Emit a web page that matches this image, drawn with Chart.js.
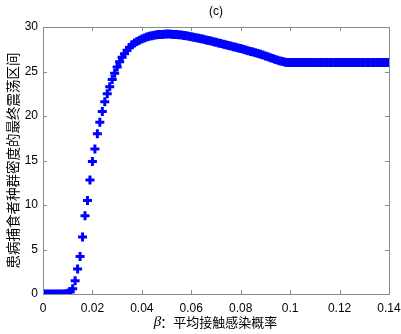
<!DOCTYPE html>
<html>
<head>
<meta charset="utf-8">
<script src="https://cdn.jsdelivr.net/npm/chart.js@4/dist/chart.umd.min.js"></script>
<style>
  body { margin: 0; background: #fff; }
  canvas { display: block; }
</style>
</head>
<body>
<canvas id="chart" width="401" height="334"></canvas>
<script>
// beta values, step 0.001 from 0 to 0.14
const betaValues = [
  0, 0.001, 0.002, 0.003, 0.004, 0.005, 0.006, 0.007, 0.008, 0.009,
  0.010, 0.011, 0.012, 0.013, 0.014, 0.015, 0.016, 0.017, 0.018, 0.019,
  0.020, 0.021, 0.022, 0.023, 0.024, 0.025, 0.026, 0.027, 0.028, 0.029,
  0.030, 0.031, 0.032, 0.033, 0.034, 0.035, 0.036, 0.037, 0.038, 0.039,
  0.040, 0.041, 0.042, 0.043, 0.044, 0.045, 0.046, 0.047, 0.048, 0.049,
  0.050, 0.051, 0.052, 0.053, 0.054, 0.055, 0.056, 0.057, 0.058, 0.059,
  0.060, 0.061, 0.062, 0.063, 0.064, 0.065, 0.066, 0.067, 0.068, 0.069,
  0.070, 0.071, 0.072, 0.073, 0.074, 0.075, 0.076, 0.077, 0.078, 0.079,
  0.080, 0.081, 0.082, 0.083, 0.084, 0.085, 0.086, 0.087, 0.088, 0.089,
  0.090, 0.091, 0.092, 0.093, 0.094, 0.095, 0.096, 0.097, 0.098, 0.099,
  0.100, 0.101, 0.102, 0.103, 0.104, 0.105, 0.106, 0.107, 0.108, 0.109,
  0.110, 0.111, 0.112, 0.113, 0.114, 0.115, 0.116, 0.117, 0.118, 0.119,
  0.120, 0.121, 0.122, 0.123, 0.124, 0.125, 0.126, 0.127, 0.128, 0.129,
  0.130, 0.131, 0.132, 0.133, 0.134, 0.135, 0.136, 0.137, 0.138, 0.139,
  0.140
];

// final oscillation interval of infected predator density
const intervalValues = [
  0, 0, 0, 0, 0, 0, 0, 0, 0, 0.02,
  0.08, 0.25, 0.6, 1.5, 2.8, 4.2, 6.4, 8.8, 10.5, 12.8,
  14.9, 16.3, 18.0, 19.3, 20.5, 21.6, 22.5, 23.3, 24.1, 24.8,
  25.5, 26.1, 26.6, 27.0, 27.4, 27.7, 28.0, 28.2, 28.38, 28.52,
  28.65, 28.77, 28.87, 28.95, 29.02, 29.08, 29.12, 29.15, 29.17, 29.19,
  29.2, 29.2, 29.19, 29.17, 29.15, 29.12, 29.09, 29.05, 29.01, 28.96,
  28.9, 28.85, 28.79, 28.73, 28.67, 28.61, 28.55, 28.48, 28.42, 28.35,
  28.28, 28.21, 28.14, 28.07, 28.0, 27.93, 27.86, 27.79, 27.72, 27.65,
  27.58, 27.5, 27.42, 27.34, 27.26, 27.18, 27.1, 27.02, 26.93, 26.84,
  26.75, 26.65, 26.55, 26.45, 26.35, 26.26, 26.18, 26.11, 26.05, 26.01,
  26.0, 26.0, 26.0, 26.0, 26.0, 26.0, 26.0, 26.0, 26.0, 26.0,
  26.0, 26.0, 26.0, 26.0, 26.0, 26.0, 26.0, 26.0, 26.0, 26.0,
  26.0, 26.0, 26.0, 26.0, 26.0, 26.0, 26.0, 26.0, 26.0, 26.0,
  26.0, 26.0, 26.0, 26.0, 26.0, 26.0, 26.0, 26.0, 26.0, 26.0,
  26.0
];

const xTicks = [0, 0.02, 0.04, 0.06, 0.08, 0.1, 0.12, 0.14];
const yTicks = [0, 5, 10, 15, 20, 25, 30];

const titleText = '(c)';
const xLabelSymbol = 'β';
const xLabelText = '：平均接触感染概率';
const yLabelText = '患病捕食者种群密度的最终震荡区间';

const points = betaValues.map((b, i) => ({ x: b, y: intervalValues[i] }));

// MATLAB-like frame with inward ticks on all four sides, plus texts
const matlabFrame = {
  id: 'matlabFrame',
  afterDraw: (chart) => {
    const ctx = chart.ctx;
    const area = chart.chartArea;
    const xs = chart.scales.x;
    const ys = chart.scales.y;
    ctx.save();
    ctx.strokeStyle = '#8a8a8a';
    ctx.lineWidth = 1;
    ctx.strokeRect(Math.round(area.left) + 0.5, Math.round(area.top) + 0.5,
      Math.round(area.right - area.left), Math.round(area.bottom - area.top));
    ctx.beginPath();
    xTicks.forEach((t) => {
      const px = Math.round(xs.getPixelForValue(t)) + 0.5;
      ctx.moveTo(px, area.bottom); ctx.lineTo(px, area.bottom - 4);
      ctx.moveTo(px, area.top); ctx.lineTo(px, area.top + 4);
    });
    yTicks.forEach((t) => {
      const py = Math.round(ys.getPixelForValue(t)) + 0.5;
      ctx.moveTo(area.left, py); ctx.lineTo(area.left + 4, py);
      ctx.moveTo(area.right, py); ctx.lineTo(area.right - 4, py);
    });
    ctx.stroke();

    ctx.fillStyle = '#000';
    const cx = (area.left + area.right) / 2;
    // title
    ctx.font = '12px "Liberation Sans", Arial, sans-serif';
    ctx.textAlign = 'center';
    ctx.textBaseline = 'middle';
    ctx.fillText(titleText, cx, 12);

    // x label: italic beta + chinese text
    ctx.font = 'italic 15px "Liberation Serif", serif';
    const wb = ctx.measureText(xLabelSymbol).width;
    ctx.font = '13px "Noto Sans CJK SC", sans-serif';
    const wt = ctx.measureText(xLabelText).width;
    let sx = cx - (wb + wt) / 2;
    ctx.textAlign = 'left';
    ctx.font = 'italic 15px "Liberation Serif", serif';
    ctx.fillText(xLabelSymbol, sx, 322);
    ctx.font = '13px "Noto Sans CJK SC", sans-serif';
    ctx.fillText(xLabelText, sx + wb - 1, 322);

    // y label rotated
    ctx.translate(13, (area.top + area.bottom) / 2);
    ctx.rotate(-Math.PI / 2);
    ctx.textAlign = 'center';
    ctx.font = '13.5px "Noto Sans CJK SC", sans-serif';
    ctx.fillText(yLabelText, 0, 0);
    ctx.restore();
  }
};

const fmt = (v) => String(+Number(v).toFixed(2));

new Chart(document.getElementById('chart'), {
  type: 'scatter',
  data: {
    datasets: [{
      data: points,
      pointStyle: 'cross',
      pointRadius: 4.5,
      pointBorderWidth: 3,
      borderColor: '#0000ff',
      backgroundColor: '#0000ff',
      showLine: false
    }]
  },
  options: {
    responsive: false,
    animation: false,
    layout: { padding: { top: 27, right: 12, left: 0, bottom: 0 } },
    plugins: {
      legend: { display: false },
      tooltip: { enabled: false }
    },
    scales: {
      x: {
        type: 'linear',
        min: 0,
        max: 0.14,
        afterFit: (scale) => {
          scale.height = 40;
          scale.paddingLeft = 0;
          scale.paddingRight = 0;
        },
        afterBuildTicks: (scale) => { scale.ticks = xTicks.map((v) => ({ value: v })); },
        grid: { display: false, drawTicks: false },
        border: { display: false },
        ticks: {
          color: '#000',
          padding: 7,
          maxRotation: 0,
          font: { family: '"Liberation Sans", Arial, sans-serif', size: 12 },
          callback: fmt
        }
      },
      y: {
        type: 'linear',
        min: 0,
        max: 30,
        afterFit: (scale) => {
          scale.width = 43;
          scale.paddingTop = 0;
          scale.paddingBottom = 0;
        },
        afterBuildTicks: (scale) => { scale.ticks = yTicks.map((v) => ({ value: v })); },
        grid: { display: false, drawTicks: false },
        border: { display: false },
        ticks: {
          color: '#000',
          padding: 5,
          font: { family: '"Liberation Sans", Arial, sans-serif', size: 12 },
          callback: fmt
        }
      }
    }
  },
  plugins: [matlabFrame]
});
</script>
</body>
</html>
